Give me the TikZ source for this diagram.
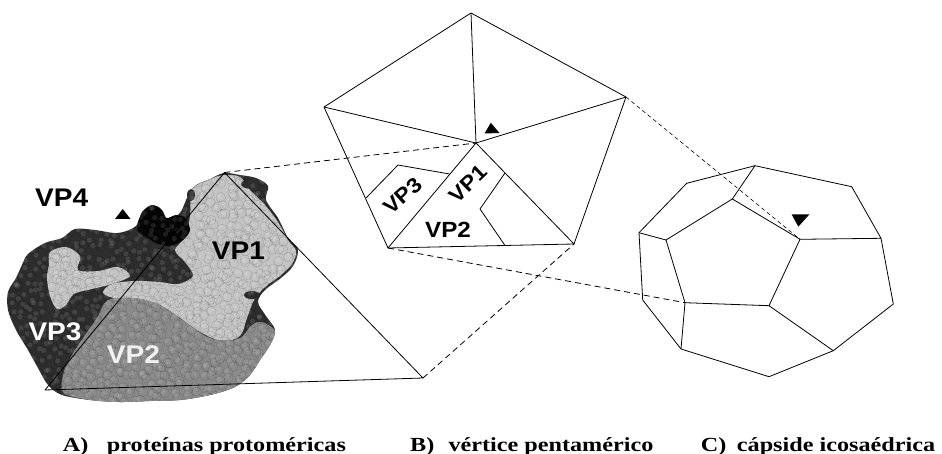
\documentclass[tikz,border=0pt]{standalone}
\usepackage{fontspec}
\newfontfamily\vpfont[FakeStretch=1.1]{Liberation Sans}
\newfontfamily\capfont[FakeStretch=1.21]{Liberation Serif}
\usetikzlibrary{calc}

\definecolor{vpthree}{HTML}{2E2E2E}
\definecolor{vpone}{HTML}{C4C4C4}
\definecolor{vptwo}{HTML}{8A8A8A}
\definecolor{vpfour}{HTML}{060606}

% outlines of the protein clusters (x right, y down)
\def\blobshape{plot[smooth cycle, tension=0.55] coordinates {
 (28,254) (45,243) (62,238) (75,229) (95,230) (118,233) (136,226) (142,212)
 (152,205) (162,210) (168,220) (180,213) (187,198) (195,186) (210,179) (224,173)
 (240,175) (256,178) (268,186) (266,200) (278,218) (288,238) (298,250) (293,266)
 (281,278) (265,290) (258,302) (266,316) (275,330) (270,345) (260,360) (250,375)
 (235,387) (210,395) (180,400) (150,401) (120,402) (90,400) (62,395) (48,385)
 (38,368) (28,350) (16,330) (8,310) (8,292) (16,278) (22,265)}}
\def\vponeshape{plot[smooth cycle, tension=0.55] coordinates {
 (192,190) (208,180) (224,175) (240,177) (250,190) (265,205) (278,222) (288,240)
 (296,251) (292,264) (280,276) (265,287) (254,300) (247,318) (240,336) (222,341)
 (200,332) (180,318) (160,305) (140,299) (118,299) (103,293) (112,284) (135,281)
 (160,282) (178,284) (193,276) (185,262) (175,250) (186,236) (190,215)}}
\def\vponepatch{plot[smooth cycle, tension=0.55] coordinates {
 (50,252) (66,247) (80,256) (78,270) (98,271) (118,267) (130,276) (112,284)
 (92,289) (74,294) (66,305) (57,309) (50,296) (47,278) (49,264)}}
\def\vptwoshape{plot[smooth cycle, tension=0.55] coordinates {
 (108,300) (135,298) (160,305) (185,322) (210,338) (238,339) (252,325) (262,322)
 (275,331) (270,345) (260,360) (250,375) (235,387) (210,395) (180,400) (150,401)
 (120,402) (90,400) (64,393) (63,375) (72,355) (85,335) (97,318)}}
\def\vpfourshape{plot[smooth cycle, tension=0.55] coordinates {
 (137,226) (142,213) (151,206) (160,208) (166,218) (176,215) (185,218) (190,230)
 (183,240) (170,246) (158,244) (148,238) (140,234)}}

\tikzset{
  edge/.style={line width=0.8pt, black, line join=round},
  link/.style={line width=0.8pt, black, dash pattern=on 6pt off 4pt},
  vplabel/.style={font=\vpfont\bfseries\fontsize{25.5}{28}\selectfont, inner sep=0pt, anchor=base west},
  pentlabel/.style={font=\vpfont\bfseries\fontsize{21}{23}\selectfont, inner sep=0pt},
  caption/.style={font=\capfont\bfseries\fontsize{20}{22}\selectfont, inner sep=0pt, anchor=base west},
  marker/.style={fill=black}
}

\begin{document}
\begin{tikzpicture}[x=1pt, y=-1pt]
\useasboundingbox (0,0) rectangle (942,454);
\fill[white] (0,0) rectangle (942,454);

% ---------- A) space-filling model of the protomer ----------
\fill[vpthree] \blobshape;
\fill[vpone] \vponeshape;
\fill[vpone] \vponepatch;
\fill[vptwo] \vptwoshape;
\fill[vpfour] \vpfourshape;
\fill[vpthree] (252,184) ellipse (11pt and 5pt);
\fill[vpthree] (191,195) ellipse (4pt and 6pt);
\fill[vpthree] (252,295) ellipse (8pt and 4pt);

% atom spheres
\begin{scope}
  \clip \blobshape;
  \pgfmathsetseed{11}
  \foreach \i in {0,...,37}{
    \foreach \j in {0,...,29}{
      \pgfmathsetmacro\bx{5+8*\i+4*rand}
      \pgfmathsetmacro\by{170+8*\j+4*rand}
      \fill[white, opacity=0.10] (\bx-1.5,\by-1.5) circle (2.6pt);
      \draw[black, opacity=0.16, line width=0.4pt] (\bx,\by) circle (4.8pt);
    }
  }
\end{scope}

\node[vplabel, text=black] (lvp4) at (35,206.7) {VP4};
\node[vplabel, text=black] (lvp1) at (211.7,260) {VP1};
\node[vplabel, text=white] (lvp3) at (28.3,340) {VP3};
\node[vplabel, text=white!94!black] (lvp2) at (106.7,363.3) {VP2};
\fill[marker] (115,219) -- (130.5,219) -- (122.7,209) -- cycle;

% triangular protomer outline
\coordinate (tA) at (224.5,172.5);
\coordinate (tR) at (423,378);
\coordinate (tL) at (45,390);
\draw[edge] (tA) -- (tR) -- (tL) -- cycle;

% ---------- B) pentameric vertex ----------
\coordinate (pT) at (471,13);
\coordinate (pR) at (626,97);
\coordinate (pBR) at (574,244);
\coordinate (pBL) at (388,248);
\coordinate (pL) at (324,107);
\coordinate (pC) at (476,143);
\draw[edge] (pT) -- (pR) -- (pBR) -- (pBL) -- (pL) -- cycle;
\foreach \v in {pT,pR,pBR,pBL,pL} \draw[edge] (pC) -- (\v);

% protein boundaries inside the lower facets
\coordinate (s1) at (366,198);
\coordinate (s2) at (398,165);
\coordinate (s3) at (449.5,174);
\draw[edge] (s1) -- (s2) -- (s3);
\coordinate (r1) at (505,173);
\coordinate (r2) at (480,209);
\coordinate (r3) at (505,245.5);
\draw[edge] (r1) -- (r2) -- (r3);

\node[pentlabel, rotate=42] (pvp3) at (402.5,196) {VP3};
\node[pentlabel, rotate=44] (pvp1) at (468.3,184) {VP1};
\node[pentlabel, font=\vpfont\bfseries\fontsize{22}{24}\selectfont] (pvp2) at (448,229.5) {VP2};
\fill[marker] (484.5,133.5) -- (499.5,133) -- (490.8,122.8) -- cycle;

% ---------- C) icosahedral capsid ----------
\coordinate (o1) at (755,165.7);
\coordinate (o2) at (851.7,186.7);
\coordinate (o3) at (881,238.3);
\coordinate (o4) at (893.3,304);
\coordinate (o5) at (833.3,350.7);
\coordinate (o6) at (769,376.7);
\coordinate (o7) at (681,349);
\coordinate (o8) at (642.7,300);
\coordinate (o9) at (639,232.7);
\coordinate (o10) at (686.7,183.3);
\coordinate (i1) at (732.3,199);
\coordinate (i2) at (800,239.3);
\coordinate (i3) at (769,305.7);
\coordinate (i4) at (685,302.7);
\coordinate (i5) at (666,240);
\draw[edge] (o1) -- (o2) -- (o3) -- (o4) -- (o5) -- (o6) -- (o7) -- (o8) -- (o9) -- (o10) -- cycle;
\draw[edge] (i1) -- (i2) -- (i3) -- (i4) -- (i5) -- cycle;
\draw[edge] (i1) -- (o1);
\draw[edge] (i2) -- (o3);
\draw[edge] (i3) -- (o5);
\draw[edge] (i4) -- (o7);
\draw[edge] (i5) -- (o9);
\fill[marker] (791.7,214.5) -- (809.3,214.5) -- (798.3,226.7) -- cycle;

% ---------- correspondence lines ----------
\draw[link] (tA) -- (pC);
\draw[link] (tR) -- (pBR);
\draw[link] (pBL) -- (i4);
\draw[link, dash pattern=on 4pt off 3pt, line width=0.6pt] (pR) -- (i2);

% ---------- captions ----------
\node[caption] (capA) at (62.7,451.5) {A)};
\node[caption] (capAt) at (106.7,451.5) {proteínas protoméricas};
\node[caption] (capB) at (410,451.5) {B)};
\node[caption] (capBt) at (448.3,451.5) {vértice pentamérico};
\node[caption] (capC) at (700.7,451.5) {C)};
\node[caption] (capCt) at (736.7,451.5) {cápside icosaédrica};
\end{tikzpicture}
\end{document}
